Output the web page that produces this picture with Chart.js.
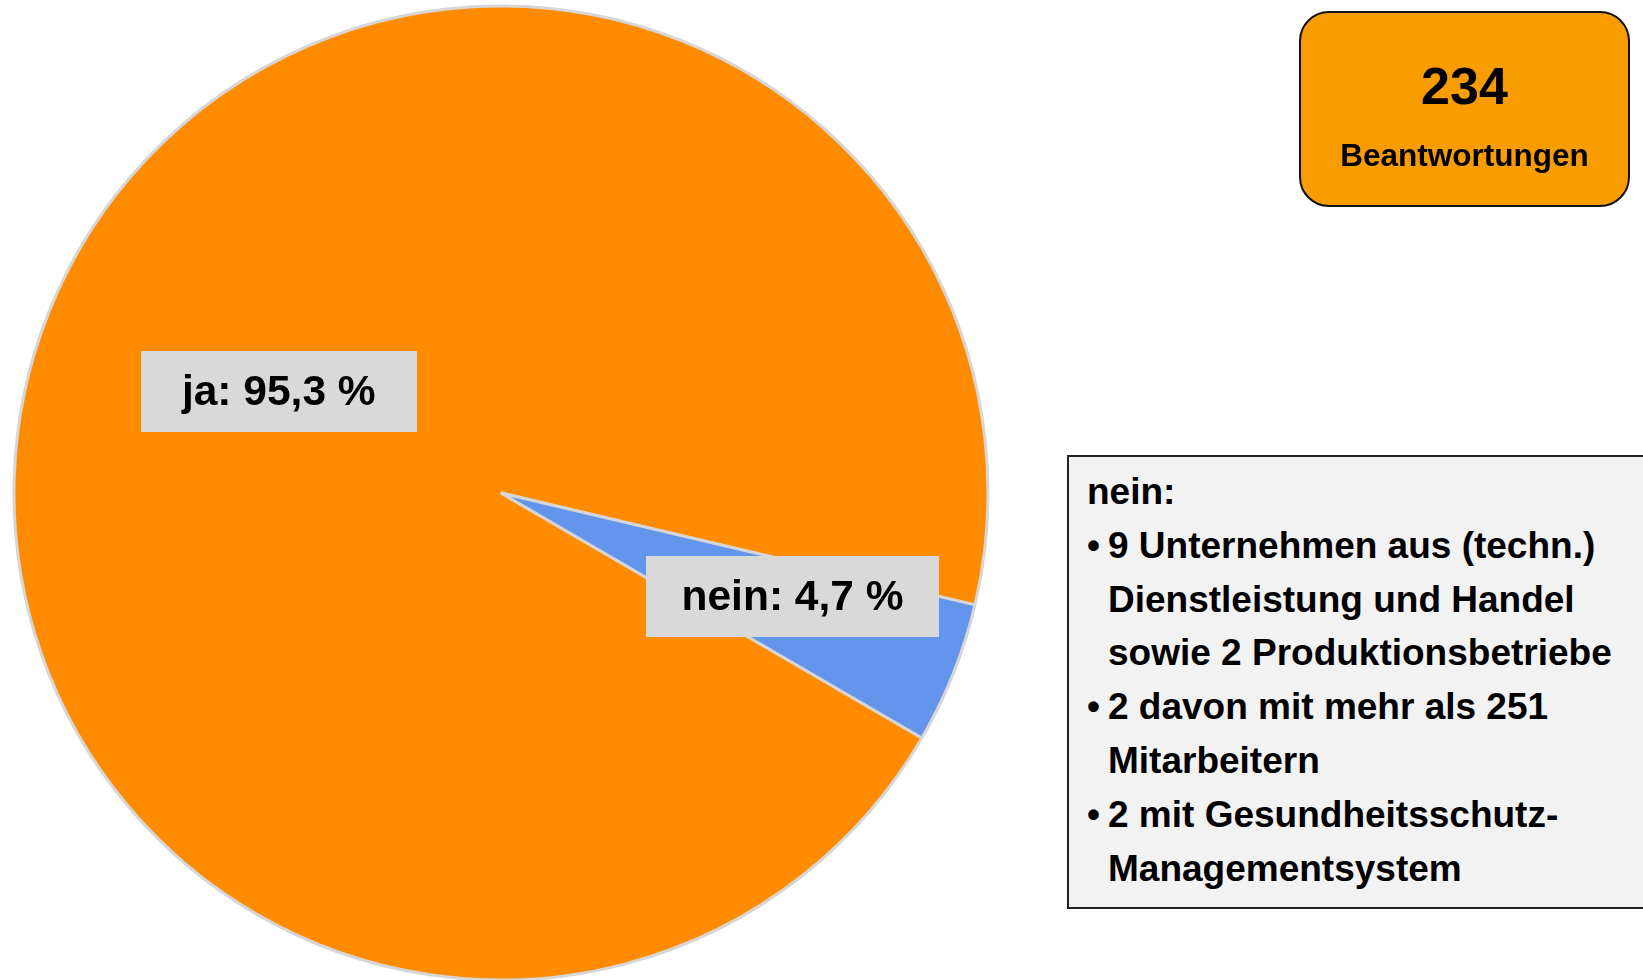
<!DOCTYPE html>
<html lang="de">
<head>
<meta charset="utf-8">
<title>Beantwortungen</title>
<script src="https://cdn.jsdelivr.net/npm/chart.js@4.4.1/dist/chart.umd.min.js"></script>
<style>
  html, body { margin: 0; padding: 0; background: #ffffff; }
  #wrap { position: relative; width: 1643px; height: 980px; overflow: hidden; font-family: "Liberation Sans", Arial, sans-serif; }
  #chart { position: absolute; left: 0; top: 0; }
  #total {
    position: absolute; left: 1299px; top: 11px; width: 327px; height: 192px;
    background: #F99C00; border: 2px solid #111; border-radius: 30px;
    font-weight: bold; color: #000; text-align: center;
  }
  #total .num { position: absolute; left: 0; right: 0; top: 47px; font-size: 52px; line-height: 52px; }
  #total .lbl { position: absolute; left: 0; right: 0; top: 122px; font-size: 31.5px; line-height: 40px; }
  #note {
    position: absolute; left: 1067px; top: 455px; width: 600px; height: 450px;
    background: #F2F2F2; border: 2px solid #222;
    font-weight: bold; color: #000; font-size: 37px; line-height: 53.8px;
  }
  #note .inner { position: absolute; left: 18px; top: 8px; }
  #note .item { position: relative; padding-left: 21px; }
  #note .item::before { content: "\2022"; position: absolute; left: 0; top: 0; }
</style>
</head>
<body>
<div id="wrap">
  <canvas id="chart" width="1643" height="980"></canvas>
  <div id="total"><div class="num" id="totalNum"></div><div class="lbl" id="totalLbl"></div></div>
  <div id="note"><div class="inner" id="noteInner"></div></div>
</div>
<script>
// ---- data ----
const categories = ["ja", "nein"];
const percentages = [95.3, 4.7];
const sliceColors = ["#FF8C00", "#6495ED"];
const totalCount = 234;
const totalLabel = "Beantwortungen";
const noteTitle = "nein:";
const noteLines = [
  ["9 Unternehmen aus (techn.)", "Dienstleistung und Handel", "sowie 2 Produktionsbetriebe"],
  ["2 davon mit mehr als 251", "Mitarbeitern"],
  ["2 mit Gesundheitsschutz-", "Managementsystem"]
];
// label placement (fraction of radius along slice mid angle, angle tweak in degrees, box padding)
const labelRadius = [0.502, 0.635];
const labelAngleShift = [2.9, -2.25];
const labelPadding = [82, 71];

function fmt(v) { return v.toFixed(1).replace(".", ","); }

// side boxes
document.getElementById("totalNum").textContent = String(totalCount);
document.getElementById("totalLbl").textContent = totalLabel;
const inner = document.getElementById("noteInner");
const t = document.createElement("div"); t.textContent = noteTitle; inner.appendChild(t);
noteLines.forEach(lines => {
  const d = document.createElement("div"); d.className = "item";
  lines.forEach((s, k) => {
    if (k > 0) d.appendChild(document.createElement("br"));
    d.appendChild(document.createTextNode(s));
  });
  inner.appendChild(d);
});

const sliceLabels = {
  id: "sliceLabels",
  afterDatasetsDraw(chart) {
    const ctx = chart.ctx;
    const meta = chart.getDatasetMeta(0);
    meta.data.forEach((arc, i) => {
      const p = arc.getProps(["x", "y", "startAngle", "endAngle", "outerRadius"], true);
      const mid = (p.startAngle + p.endAngle) / 2 + labelAngleShift[i] * Math.PI / 180;
      const rr = p.outerRadius * labelRadius[i];
      const cx = p.x + Math.cos(mid) * rr;
      const cy = p.y + Math.sin(mid) * rr;
      const text = categories[i] + ": " + fmt(percentages[i]) + " %";
      ctx.save();
      ctx.font = "bold 42.5px 'Liberation Sans', Arial, sans-serif";
      const w = ctx.measureText(text).width;
      const bw = w + labelPadding[i], bh = 81;
      ctx.fillStyle = "#D9D9D9";
      ctx.fillRect(Math.round(cx - bw / 2), Math.round(cy - bh / 2), Math.round(bw), bh);
      ctx.fillStyle = "#000000";
      ctx.textAlign = "center";
      ctx.textBaseline = "middle";
      ctx.fillText(text, cx, cy + 2);
      ctx.restore();
    });
  }
};

new Chart(document.getElementById("chart"), {
  type: "pie",
  data: {
    labels: categories,
    datasets: [{
      data: percentages,
      backgroundColor: sliceColors,
      borderColor: "#D6D6D6",
      borderWidth: 3
    }]
  },
  options: {
    responsive: false,
    animation: false,
    rotation: 120.2,
    radius: 487,
    layout: { padding: { left: 13, right: 654, top: 6, bottom: 0 } },
    plugins: { legend: { display: false }, tooltip: { enabled: false } }
  },
  plugins: [sliceLabels]
});
</script>
</body>
</html>
